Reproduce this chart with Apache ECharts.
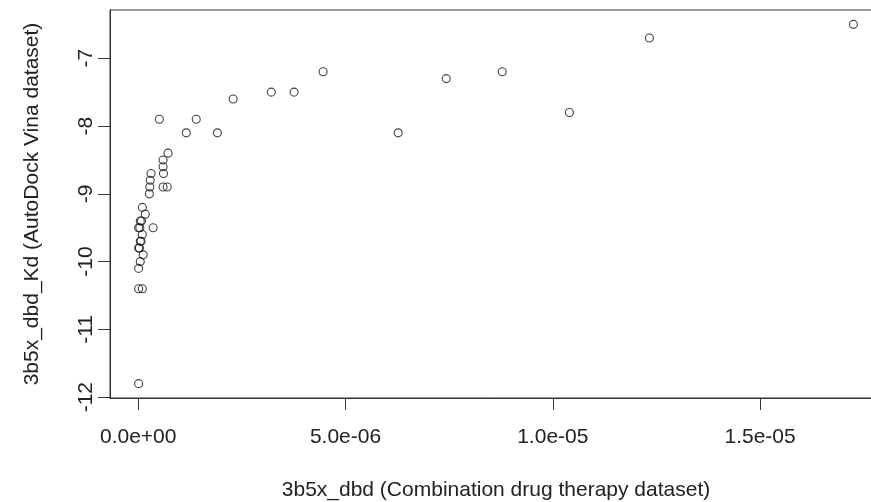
<!DOCTYPE html>
<html>
<head>
<meta charset="utf-8">
<script src="https://cdn.jsdelivr.net/npm/echarts@6/dist/echarts.min.js"></script>
<style>
  html, body { margin: 0; padding: 0; background: #fff; }
  #chart { width: 871px; height: 502px; }
</style>
</head>
<body>
<div id="chart"></div>
<script>
// Combination drug therapy dissociation constant (x) vs. AutoDock Vina score (y)
const kdValues = [
  0.51e-6, 1.40e-6, 1.16e-6, 1.91e-6, 2.29e-6, 3.21e-6, 3.76e-6, 4.46e-6,
  6.27e-6, 7.43e-6, 8.78e-6, 10.40e-6, 12.33e-6, 17.25e-6,
  0.72e-6, 0.60e-6, 0.60e-6, 0.61e-6, 0.31e-6, 0.29e-6, 0.28e-6, 0.27e-6,
  0.60e-6, 0.70e-6,
  0.10e-6, 0.17e-6, 0.05e-6, 0.08e-6, 0.01e-6, 0.04e-6, 0.36e-6, 0.10e-6,
  0.05e-6, 0.07e-6, 0.01e-6, 0.03e-6, 0.12e-6, 0.05e-6, 0.01e-6,
  0.01e-6, 0.10e-6, 0.01e-6
];
const vinaScores = [
  -7.9, -7.9, -8.1, -8.1, -7.6, -7.5, -7.5, -7.2,
  -8.1, -7.3, -7.2, -7.8, -6.7, -6.5,
  -8.4, -8.5, -8.6, -8.7, -8.7, -8.8, -8.9, -9.0,
  -8.9, -8.9,
  -9.2, -9.3, -9.4, -9.4, -9.5, -9.5, -9.5, -9.6,
  -9.7, -9.7, -9.8, -9.8, -9.9, -10.0, -10.1,
  -10.4, -10.4, -11.8
];
const xTicks = [0, 5e-6, 1e-5, 1.5e-5];
const xTickLabels = ['0.0e+00', '5.0e-06', '1.0e-05', '1.5e-05'];
const yTicks = [-12, -11, -10, -9, -8, -7];

const xTitle = '3b5x_dbd (Combination drug therapy dataset)';
const yTitle = '3b5x_dbd_Kd (AutoDock Vina dataset)';

const points = kdValues.map((x, i) => [x, vinaScores[i]]);
const font = '"Liberation Sans", Arial, sans-serif';
const ink = '#222';

const chart = echarts.init(document.getElementById('chart'), null, { renderer: 'canvas' });
chart.setOption({
  animation: false,
  backgroundColor: '#fff',
  grid: {
    left: 110, top: 10, width: 772, height: 388,
    outerBoundsMode: 'none', containLabel: false,
    show: true, borderColor: '#333', borderWidth: 1, backgroundColor: 'transparent'
  },
  xAxis: {
    type: 'value',
    min: -0.68e-6, max: 17.94e-6,
    splitLine: { show: false },
    axisLine: { show: true, onZero: false, lineStyle: { color: '#333', width: 1 } },
    axisTick: { show: true, inside: false, length: 12, customValues: xTicks, lineStyle: { color: '#333' } },
    axisLabel: {
      customValues: xTicks,
      formatter: v => xTickLabels[xTicks.findIndex(t => Math.abs(t - v) < 1e-12)] ?? '',
      fontFamily: font, fontSize: 21, color: ink, margin: 29
    },
    name: xTitle, nameLocation: 'middle', nameGap: 82,
    nameTextStyle: { fontFamily: font, fontSize: 21, color: ink }
  },
  yAxis: {
    type: 'value',
    min: -12.012, max: -6.288,
    splitLine: { show: false },
    axisLine: { show: true, onZero: false, lineStyle: { color: '#333', width: 1 } },
    axisTick: { show: true, inside: false, length: 12, customValues: yTicks, lineStyle: { color: '#333' } },
    axisLabel: {
      customValues: yTicks, rotate: 90,
      fontFamily: font, fontSize: 21, color: ink, margin: 13
    },
    name: yTitle, nameLocation: 'middle', nameGap: 67, nameRotate: 90,
    nameTextStyle: { fontFamily: font, fontSize: 21, color: ink }
  },
  series: [{
    type: 'scatter',
    data: points,
    symbol: 'circle',
    symbolSize: 8,
    itemStyle: { color: 'rgba(0,0,0,0)', borderColor: '#111', borderWidth: 1.1 },
    emphasis: { disabled: true }
  }]
});
</script>
</body>
</html>
